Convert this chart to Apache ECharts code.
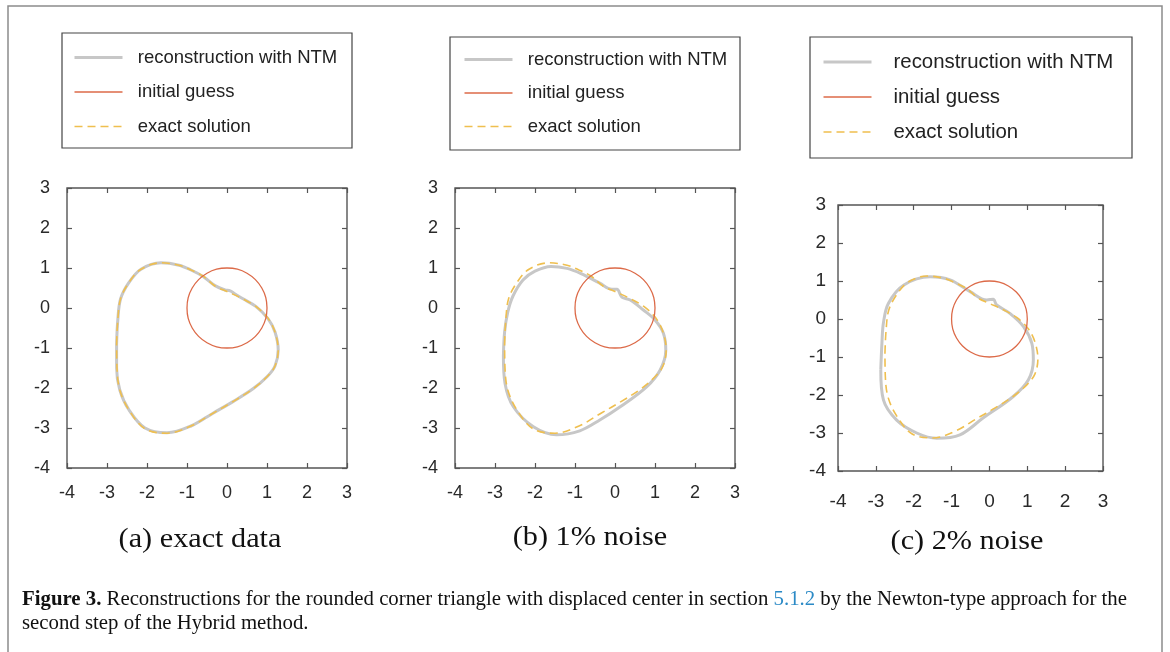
<!DOCTYPE html>
<html>
<head>
<meta charset="utf-8">
<title>Figure 3</title>
<script src="https://cdn.jsdelivr.net/npm/echarts@6/dist/echarts.min.js"></script>
<style>
html, body { margin: 0; padding: 0; background: #fff; }
#chart { width: 1170px; height: 652px; }
</style>
</head>
<body>
<div id="chart"></div>
<script>
var seriesNames = ['reconstruction with NTM', 'initial guess', 'exact solution'];
var panelLabels = ['(a) exact data', '(b) 1% noise', '(c) 2% noise'];
var axisMin = -4, axisMax = 3, tickStep = 1;

// exact boundary (same in all three panels)
var exactSolution = [
  [-2.76, -0.9], [-2.73, -0.3], [-2.66, 0.23], [-2.45, 0.64], [-2.15, 0.97], [-1.65, 1.13],
  [-1.2, 1.07], [-0.9, 0.95], [-0.6, 0.8], [-0.3, 0.55], [0.0, 0.41], [0.35, 0.25],
  [0.72, 0.04], [1.02, -0.25], [1.2, -0.6], [1.28, -1.05], [1.2, -1.45], [1.0, -1.72],
  [0.65, -2.02], [0.15, -2.34], [-0.35, -2.63], [-0.9, -2.95], [-1.5, -3.13], [-2.05, -3.02],
  [-2.45, -2.55], [-2.68, -2.05], [-2.75, -1.5], [-2.76, -0.9]
];
// initial guess: unit circle around the origin
var initialGuess = [
  [1, 0], [0.97, 0.26], [0.87, 0.5], [0.71, 0.71], [0.5, 0.87], [0.26, 0.97], [0, 1],
  [-0.26, 0.97], [-0.5, 0.87], [-0.71, 0.71], [-0.87, 0.5], [-0.97, 0.26], [-1, 0],
  [-0.97, -0.26], [-0.87, -0.5], [-0.71, -0.71], [-0.5, -0.87], [-0.26, -0.97], [0, -1],
  [0.26, -0.97], [0.5, -0.87], [0.71, -0.71], [0.87, -0.5], [0.97, -0.26], [1, 0]
];
// reconstructions
var reconExact = [
  [-2.76, -0.9], [-2.73, -0.3], [-2.66, 0.23], [-2.45, 0.64], [-2.15, 0.97], [-1.65, 1.13],
  [-1.2, 1.07], [-0.9, 0.95], [-0.6, 0.79], [-0.3, 0.56], [-0.05, 0.45], [0.08, 0.43],
  [0.2, 0.35], [0.4, 0.23], [0.72, 0.04], [1.02, -0.26], [1.2, -0.6], [1.28, -1.05],
  [1.2, -1.45], [1.0, -1.72], [0.65, -2.02], [0.15, -2.34], [-0.35, -2.63], [-0.9, -2.95],
  [-1.5, -3.12], [-2.05, -3.0], [-2.45, -2.55], [-2.68, -2.05], [-2.76, -1.5], [-2.76, -0.9]
];
var reconNoise1 = [
  [-2.79, -1.2], [-2.76, -0.6], [-2.68, -0.1], [-2.55, 0.3], [-2.3, 0.7], [-2.0, 0.92],
  [-1.6, 1.04], [-1.2, 0.99], [-0.85, 0.86], [-0.38, 0.62], [-0.08, 0.47], [0.05, 0.47],
  [0.17, 0.27], [0.38, 0.2], [0.71, -0.05], [1.0, -0.3], [1.21, -0.63], [1.27, -1.05],
  [1.13, -1.55], [0.79, -1.97], [0.13, -2.47], [-0.38, -2.8], [-0.88, -3.07], [-1.46, -3.17],
  [-2.04, -2.97], [-2.54, -2.47], [-2.75, -1.88], [-2.79, -1.2]
];
var reconNoise2 = [
  [-2.87, -1.34], [-2.84, -0.64], [-2.8, -0.1], [-2.67, 0.41], [-2.27, 0.89], [-1.57, 1.11],
  [-1.04, 1.03], [-0.51, 0.72], [-0.07, 0.5], [0.1, 0.52], [0.19, 0.37], [0.54, 0.15],
  [0.9, -0.2], [1.12, -0.64], [1.16, -1.08], [1.03, -1.6], [0.63, -2.04], [-0.16, -2.6],
  [-0.78, -3.05], [-1.39, -3.14], [-1.92, -3.0], [-2.45, -2.66], [-2.8, -2.13], [-2.87, -1.34]
];
var reconstructions = [reconExact, reconNoise1, reconNoise2];

// layout of the three panels (pixels)
var panels = [
  { grid: { left: 67, top: 188, width: 280, height: 280 }, tickFont: 18, xMargin: 16, yMargin: 17,
    legend: { left: 73, top: 48, gap: 15.5, font: 18.5, icon: 48, pad: '  ' },
    box: [62, 33, 290, 115], label: [200, 540] },
  { grid: { left: 455, top: 188, width: 280, height: 280 }, tickFont: 18, xMargin: 16, yMargin: 17,
    legend: { left: 463, top: 50, gap: 14.5, font: 18.5, icon: 48, pad: '  ' },
    box: [450, 37, 290, 113], label: [590, 538] },
  { grid: { left: 838, top: 205, width: 265, height: 266 }, tickFont: 19, xMargin: 21, yMargin: 12,
    legend: { left: 822, top: 52, gap: 15, font: 20.4, icon: 48, pad: '   ' },
    box: [810, 37, 322, 121], label: [967, 542] }
];

var sans = 'Liberation Sans, Arial, sans-serif';
var serif = 'Liberation Serif, Times New Roman, serif';
var axisColor = '#555';
var colors = { recon: '#c7c7c7', guess: '#dc6a48', exact: '#efbf4f' };

var chart = echarts.init(document.getElementById('chart'));
var option = {
  animation: false,
  backgroundColor: '#fff',
  grid: [], xAxis: [], yAxis: [], legend: [], series: [],
  graphic: [{
    type: 'rect', shape: { x: 8, y: 6, width: 1154, height: 700 },
    style: { fill: 'none', stroke: '#8c8c8c', lineWidth: 1.5 }, silent: true
  }]
};

function axis(i, pos, p) {
  var showLabel = pos === 'bottom' || pos === 'left';
  return {
    gridIndex: i, type: 'value', position: pos,
    min: axisMin, max: axisMax, interval: tickStep,
    axisLine: { show: false, onZero: false },
    axisTick: { show: true, inside: true, length: 5, lineStyle: { color: axisColor, width: 1.2 } },
    axisLabel: {
      show: showLabel, color: '#2a2a2a', fontFamily: sans, fontSize: p.tickFont,
      margin: (pos === 'bottom' ? p.xMargin : p.yMargin)
    },
    splitLine: { show: false }
  };
}

panels.forEach(function (p, i) {
  option.grid.push(Object.assign({
    show: true, borderColor: axisColor, borderWidth: 1.4, backgroundColor: '#fff',
    containLabel: false, outerBoundsMode: 'none'
  }, p.grid));
  option.xAxis.push(axis(i, 'bottom', p), axis(i, 'top', p));
  option.yAxis.push(axis(i, 'left', p), axis(i, 'right', p));

  var xi = 2 * i, yi = 2 * i;
  option.series.push({
    type: 'line', name: seriesNames[0], xAxisIndex: xi, yAxisIndex: yi,
    data: reconstructions[i], smooth: 0.35, symbol: 'none', z: 2,
    itemStyle: { color: colors.recon },
    lineStyle: { color: colors.recon, width: 3 }
  }, {
    type: 'line', name: seriesNames[2], xAxisIndex: xi, yAxisIndex: yi,
    data: exactSolution, smooth: 0.35, symbol: 'none', z: 3,
    itemStyle: { color: colors.exact },
    lineStyle: { color: colors.exact, width: 1.6, type: [8, 5] }
  }, {
    type: 'line', name: seriesNames[1], xAxisIndex: xi, yAxisIndex: yi,
    data: initialGuess, smooth: 0.4, symbol: 'none', z: 4,
    itemStyle: { color: colors.guess },
    lineStyle: { color: colors.guess, width: 1.3 }
  });

  option.legend.push({
    orient: 'vertical', left: p.legend.left, top: p.legend.top, padding: 0,
    itemWidth: p.legend.icon, itemHeight: 14, itemGap: p.legend.gap, selectedMode: false,
    data: seriesNames,
    itemStyle: { opacity: 0, borderWidth: 0 },
    lineStyle: { width: 'inherit' },
    formatter: function (name) { return p.legend.pad + name; },
    textStyle: { fontFamily: sans, fontSize: p.legend.font, color: '#222' }
  });

  option.graphic.push({
    type: 'rect', silent: true,
    shape: { x: p.box[0], y: p.box[1], width: p.box[2], height: p.box[3] },
    style: { fill: 'none', stroke: '#444', lineWidth: 1.2 }
  }, {
    type: 'text', x: p.label[0], y: p.label[1], scaleX: 1.12, silent: true,
    style: {
      text: panelLabels[i], fill: '#111', font: '27px ' + serif,
      textAlign: 'center', textVerticalAlign: 'middle'
    }
  });
});

option.graphic.push({
  type: 'text', x: 22, y: 600, silent: true,
  style: {
    text: '{b|Figure 3.} Reconstructions for the rounded corner triangle with displaced center in section {l|5.1.2} by the Newton-type approach for the',
    fill: '#111', font: '20.8px ' + serif, textVerticalAlign: 'middle',
    rich: {
      b: { fontWeight: 'bold', fontSize: 20.8, fontFamily: serif, fill: '#111' },
      l: { fontSize: 20.8, fontFamily: serif, fill: '#2b8ac6' }
    }
  }
}, {
  type: 'text', x: 22, y: 624, silent: true,
  style: {
    text: 'second step of the Hybrid method.',
    fill: '#111', font: '20.8px ' + serif, textVerticalAlign: 'middle'
  }
});

chart.setOption(option);
</script>
</body>
</html>
